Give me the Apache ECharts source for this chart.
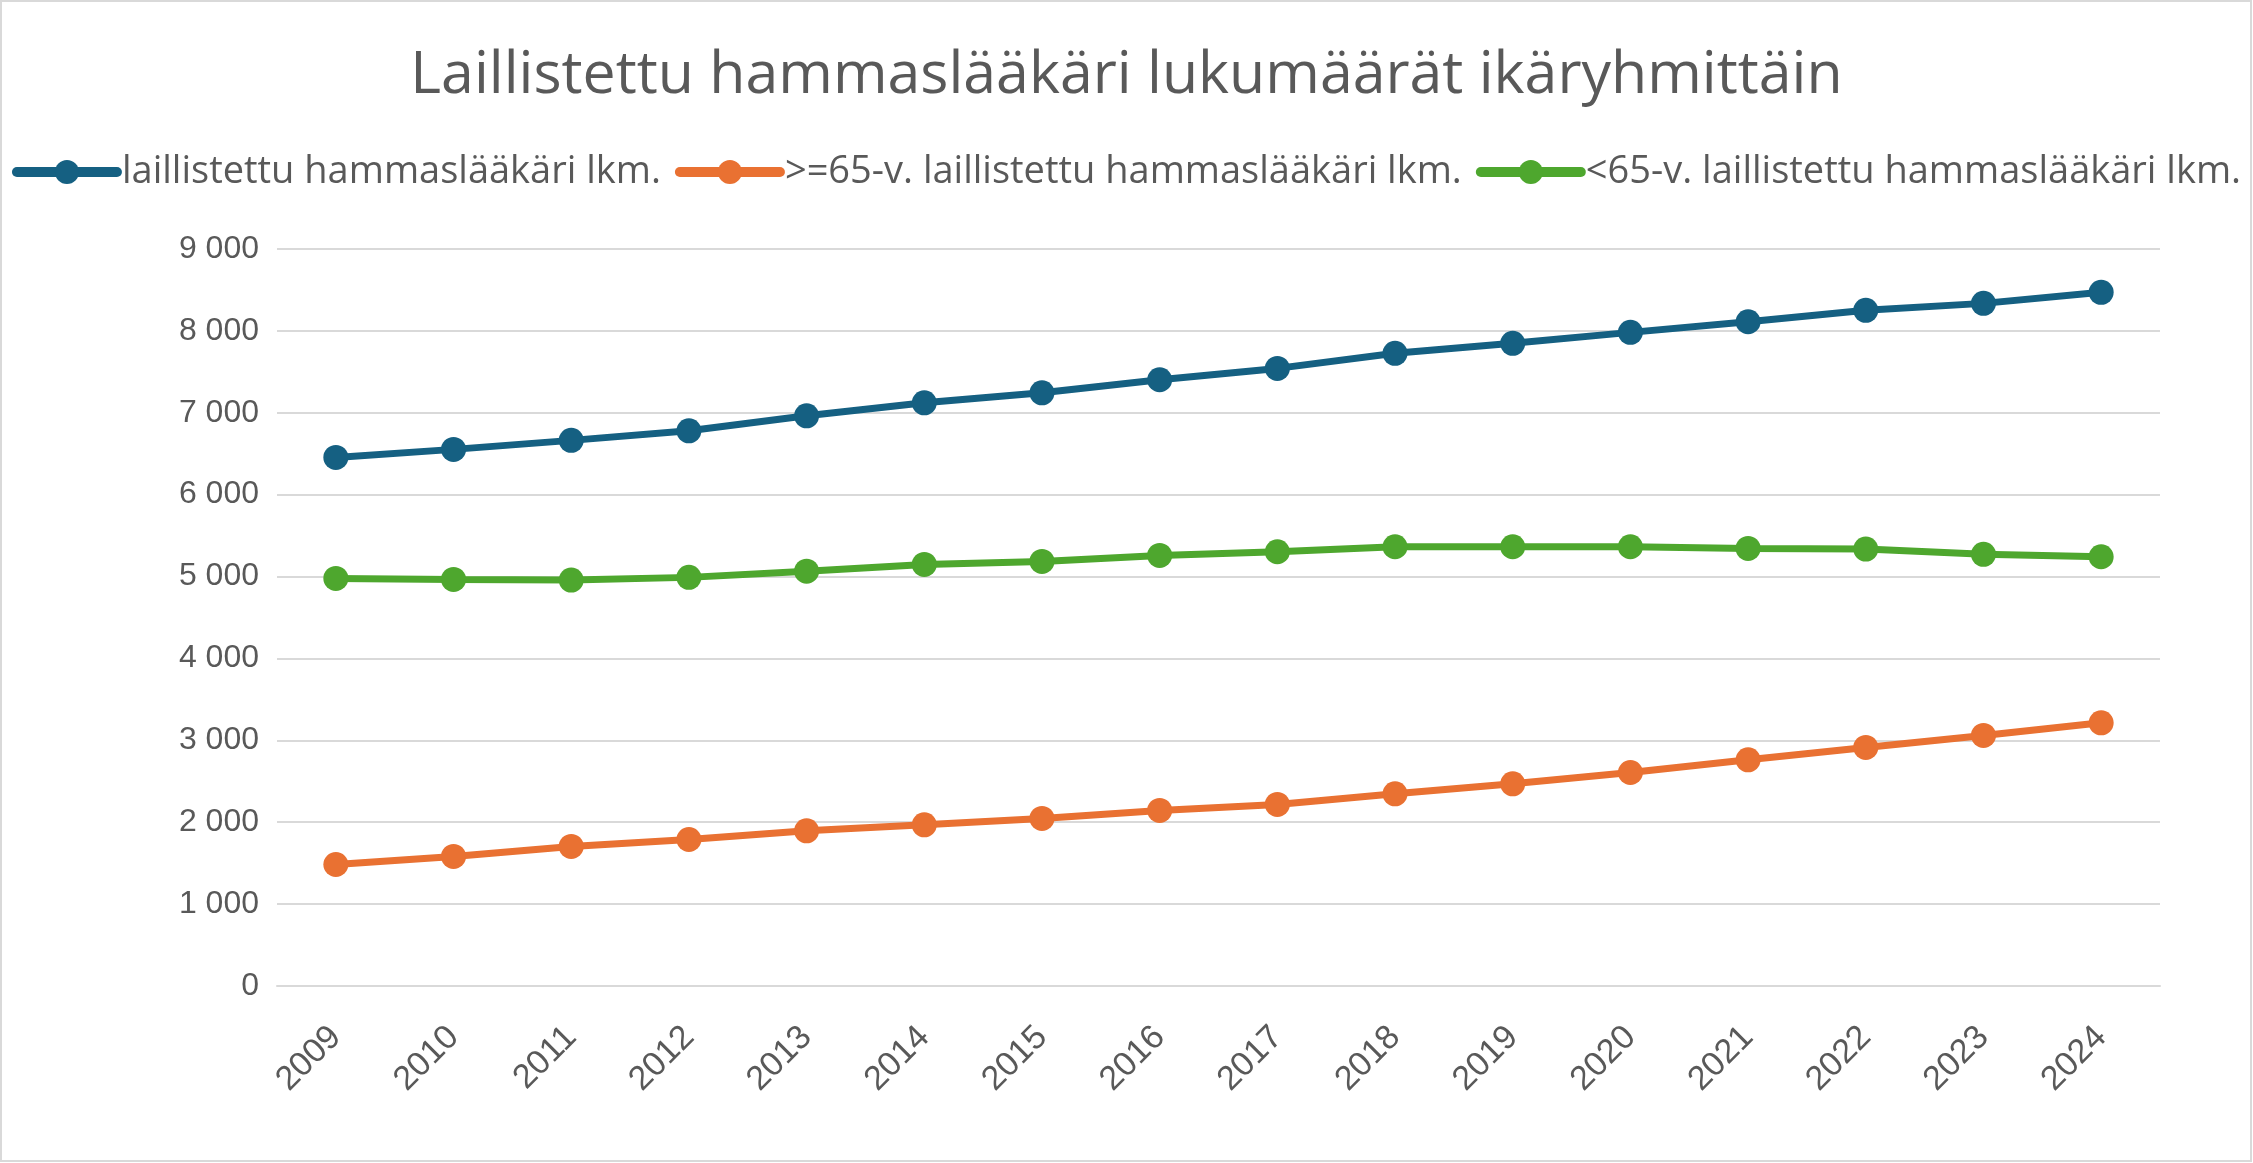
<!DOCTYPE html>
<html><head><meta charset="utf-8">
<script src="https://cdn.jsdelivr.net/npm/echarts@6/dist/echarts.min.js"></script>
<style>html,body{margin:0;padding:0;background:#fff}#c{width:2253px;height:1163px}</style>
</head><body><div id="c"></div>
<script>
const years = ['2009','2010','2011','2012','2013','2014','2015','2016','2017','2018','2019','2020','2021','2022','2023','2024'];
const total = [6455,6553,6663,6780,6963,7122,7244,7403,7542,7726,7848,7982,8112,8251,8336,8471];
const over65 = [1484,1582,1704,1789,1895,1968,2046,2144,2217,2347,2469,2607,2762,2913,3060,3214];
const under65 = [4977,4965,4957,4990,5066,5148,5185,5258,5303,5364,5364,5364,5344,5336,5271,5242];
const seriesNames = ['laillistettu hammaslääkäri lkm.','>=65-v. laillistettu hammaslääkäri lkm.','<65-v. laillistettu hammaslääkäri lkm.'];
const titleText = 'Laillistettu hammaslääkäri lukumäärät ikäryhmittäin';
const colors = ['#156082','#E97132','#4EA72E'];
const font = 'Open Sans';
const chart = echarts.init(document.getElementById('c'));
function mk(name, data, color){
  return {name, type:'line', data, symbol:'circle', symbolSize:25, color,
    lineStyle:{width:7,color}, itemStyle:{color}};
}
chart.setOption({
  backgroundColor:'#fff',
  animation:false,
  title:{text:titleText,left:'center',top:42,textStyle:{fontFamily:font,fontSize:59,fontWeight:'normal',color:'#595959'}},
  legend:{top:148,left:'center',itemWidth:100,itemHeight:30,itemGap:14,
    lineStyle:{width:10,cap:'round'},
    textStyle:{fontFamily:font,fontSize:38,color:'#595959'},
    data:seriesNames},
  grid:{left:277,right:93,top:249,bottom:177},
  xAxis:{type:'category',data:years,boundaryGap:true,
    axisLine:{show:true,lineStyle:{color:'#d9d9d9',width:2}},axisTick:{show:false},
    axisLabel:{rotate:45,margin:46,fontFamily:'Liberation Sans',fontSize:34,color:'#595959'}},
  yAxis:{type:'value',min:0,max:9000,interval:1000,
    axisLine:{show:false},axisTick:{show:false},
    splitLine:{lineStyle:{color:'#d9d9d9',width:2}},
    axisLabel:{margin:18,fontFamily:'Liberation Sans',fontSize:32,color:'#595959',
      formatter:v=>String(v).replace(/\B(?=(\d{3})+(?!\d))/g,' ')}},
  series:[mk(seriesNames[0],total,colors[0]),mk(seriesNames[1],over65,colors[1]),mk(seriesNames[2],under65,colors[2])],
  graphic:[{type:'rect',shape:{x:1,y:1,width:2250,height:1160},style:{fill:'none',stroke:'#d9d9d9',lineWidth:2},silent:true}]
});
</script></body></html>
